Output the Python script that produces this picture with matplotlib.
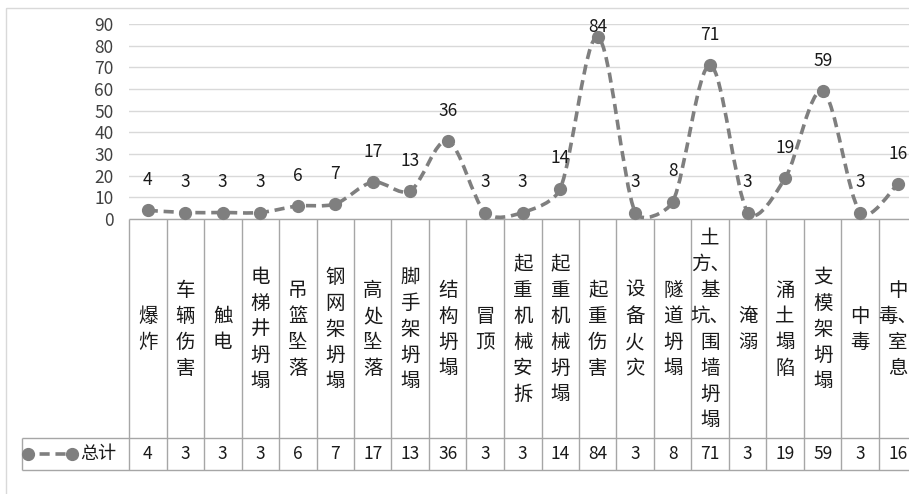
import numpy as np
import matplotlib
matplotlib.use('Agg')
import matplotlib.pyplot as plt
from matplotlib.path import Path
from matplotlib.patches import PathPatch, Rectangle

plt.rcParams['font.family'] = ['Noto Sans CJK SC', 'DejaVu Sans']

# 数据
categories = ['爆炸', '车辆伤害', '触电', '电梯井坍塌', '吊篮坠落', '钢网架坍塌', '高处坠落',
              '脚手架坍塌', '结构坍塌', '冒顶', '起重机械安拆', '起重机械坍塌', '起重伤害',
              '设备火灾', '隧道坍塌', '土方、基坑、围墙坍塌', '淹溺', '涌土塌陷', '支模架坍塌',
              '中毒', '中毒、室息']
values = [4, 3, 3, 3, 6, 7, 17, 13, 36, 3, 3, 14, 84, 3, 8, 71, 3, 19, 59, 3, 16]
series_name = '总计'
yticks = list(range(0, 100, 10))

W, H = 909, 494
gray = '#7f7f7f'
line_gray = '#a6a6a6'


def vert(s):
    # 竖排文字, 顿号跟在前一个字后面
    lines = []
    for ch in s:
        if ch == '、' and lines:
            lines[-1] += ch
        else:
            lines.append(ch)
    return '\n'.join(lines)


fig = plt.figure(figsize=(W / 100, H / 100), dpi=100)

# 背景层, 像素坐标
bg = fig.add_axes([0, 0, 1, 1])
bg.set_xlim(0, W)
bg.set_ylim(H, 0)
bg.axis('off')
bg.add_patch(Rectangle((6, 8), 1200, 800, fill=False, ec='#d9d9d9', lw=1))

left, right = 129, 129 + 37.5 * len(categories)
top0, y0 = 24, 219
row1, row2 = 438, 470

# 主图
ax = fig.add_axes([left / W, 1 - y0 / H, (right - left) / W, (y0 - top0) / H])
ax.patch.set_alpha(0)
n = len(values)
x = np.arange(n)
ax.set_xlim(-0.5, n - 0.5)
ax.set_ylim(0, 90)
ax.set_yticks(yticks)
ax.tick_params(axis='y', length=0, pad=11, labelsize=12.5, labelcolor='#404040')
ax.set_xticks([])
ax.yaxis.grid(True, color='#d9d9d9', lw=1)
ax.set_axisbelow(True)
for s in ax.spines.values():
    s.set_visible(False)

# 平滑曲线: 在屏幕比例下算控制点, 控制柄长度受相邻线段限制
sx = 37.5
sy = (y0 - top0) / 90.0
pts = np.column_stack([x * sx, np.array(values, float) * sy])


def handle(i, seg):
    d = pts[min(i + 1, n - 1)] - pts[max(i - 1, 0)]
    L = np.linalg.norm(d)
    return d / L * min(L / 6, seg / 3)


verts = [pts[0]]
codes = [Path.MOVETO]
for i in range(n - 1):
    p1, p2 = pts[i], pts[i + 1]
    seg = np.linalg.norm(p2 - p1)
    verts += [p1 + handle(i, seg), p2 - handle(i + 1, seg), p2]
    codes += [Path.CURVE4] * 3
verts = np.array(verts) / [sx, sy]
ax.add_patch(PathPatch(Path(verts, codes), fill=False, ec=gray, lw=2.6,
                       ls=(0, (2.8, 1.6)), capstyle='butt', clip_on=False, zorder=2))
ax.plot(x, values, 'o', color=gray, ms=8.5, clip_on=False, zorder=3)

for i, v in enumerate(values):
    ax.text(i, min(v + 14, 88.4), str(v), ha='center', va='center', fontsize=12.5, color='#1a1a1a')

# 数据表
tax = fig.add_axes([left / W, 1 - row2 / H, (right - left) / W, (row2 - y0) / H])
tax.set_xlim(-0.5, n - 0.5)
tax.set_ylim(row2, y0)
tax.axis('off')
tax.patch.set_alpha(0)
tax.vlines(np.arange(n + 1) - 0.5, y0, row2, color=line_gray, lw=1, clip_on=False)
for i, c in enumerate(categories):
    tax.text(i, (y0 + row1) / 2 + 1, vert(c), ha='center', va='center', ma='center',
             fontsize=14, linespacing=1.32, color='#1a1a1a')
    tax.text(i, (row1 + row2) / 2, str(values[i]), ha='center', va='center',
             fontsize=12.5, color='#1a1a1a')

bg.hlines(y0, left, right, color=line_gray, lw=1)
bg.hlines([row1, row2], 22, right, color=line_gray, lw=1)
bg.vlines(22, row1, row2, color=line_gray, lw=1)

# 图例
ly = (row1 + row2) / 2
bg.plot([28, 72], [ly, ly], color=gray, lw=2.6, ls=(1.2, (2.8, 1.6)), solid_capstyle='butt')
bg.plot([28, 72], [ly, ly], 'o', color=gray, ms=8.5)
bg.text(80, ly, series_name, ha='left', va='center', fontsize=13, color='#1a1a1a')

fig.savefig('out.png', dpi=100)
